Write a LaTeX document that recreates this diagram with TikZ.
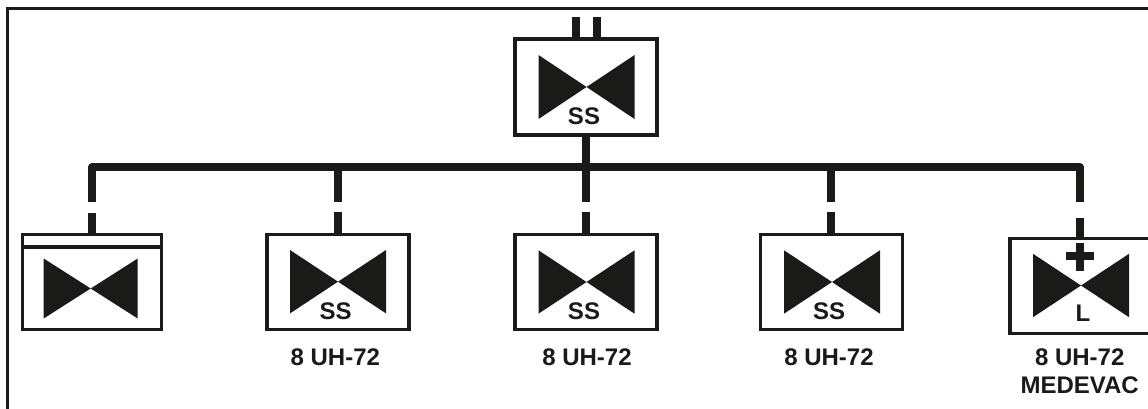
\documentclass[tikz,border=0pt]{standalone}
\usepackage{fontspec}
\setmainfont{Liberation Sans}
\definecolor{ink}{HTML}{1A1A18}
\tikzset{
  x=1pt,y=-1pt,
  unitbox/.style={draw=ink,line width=3.4pt,fill=white,inner sep=0pt},
  wing/.style={fill=ink,draw=none},
  trunk/.style={draw=ink,line width=7.7pt},
  bar/.style={draw=ink,line width=7.7pt},
  captext/.style={font=\bfseries\fontsize{24}{28}\selectfont,text=ink,inner sep=0pt,align=center},
  ssl/.style={font=\bfseries\fontsize{24}{24}\selectfont,text=ink,inner sep=0pt}
}
\newcommand{\mybow}[4]{% apex x, apex y, half width, half height
  \fill[wing] (#1,#2) -- (#1-#3,#2-#4) -- (#1-#3,#2+#4) -- cycle;
  \fill[wing] (#1,#2) -- (#1+#3,#2-#4) -- (#1+#3,#2+#4) -- cycle;
}
\begin{document}
\begin{tikzpicture}
\useasboundingbox (0,0) rectangle (1148,409);
\fill[white] (0,0) rectangle (1148,409);
% frame
\draw[ink,line width=3pt] (7.3,409) -- (7.3,9) -- (1148,9);
% named anchors
\coordinate (busL) at (92,167);
\coordinate (busR) at (1080,167);
\coordinate (stubA) at (576.2,17);
\coordinate (stubB) at (596.8,17);
% boxes
\node[unitbox,minimum width=142pt,minimum height=96pt] (hq) at (586,87) {};
\node[unitbox,minimum width=139pt,minimum height=94.5pt] (b1) at (92.2,282) {};
\node[unitbox,minimum width=142pt,minimum height=95.5pt] (b2) at (338,282) {};
\node[unitbox,minimum width=142pt,minimum height=95.5pt] (b3) at (586,282) {};
\node[unitbox,minimum width=142pt,minimum height=95.5pt] (b4) at (831.5,282) {};
\node[unitbox,minimum width=142pt,minimum height=95.5pt] (b5) at (1081,286) {};
% connectors
\draw[bar] (stubA) -- (stubA |- hq.north);
\draw[bar] (stubB) -- (stubB |- hq.north);
\draw[trunk,line cap=butt,line join=round] (92,202) -- (busL) -- (busR) -- (1080,202);
\draw[trunk] (hq.south) -- (586,202);
\draw[trunk] (338,167) -- (338,202);
\draw[trunk] (831,167) -- (831,202);
\draw[trunk] (92,213) -- (92,234);
\draw[trunk] (338,212) -- (338,234);
\draw[trunk] (586,212) -- (586,234);
\draw[trunk] (831,212) -- (831,234);
\draw[trunk] (1080,218) -- (1080,238);
% headquarters band
\draw[ink,line width=3.6pt] (b1.west |- 0,247) -- (b1.east |- 0,247);
% symbols
\mybow{586.5}{87}{48}{32}
\mybow{90.7}{288.5}{47}{30}
\mybow{338}{281.7}{48}{31.7}
\mybow{586.5}{282}{48}{31.7}
\mybow{832}{282}{48}{31.7}
\mybow{1081}{285.5}{48}{31.7}
\draw[bar] (1066,256) -- (1094,256);
\draw[bar] (1080,243) -- (1080,271);
% labels
\node[ssl] (t0) at (584,116.5) {SS};
\node[ssl] (t2) at (335.7,311) {SS};
\node[ssl] (t3) at (584,311) {SS};
\node[ssl] (t4) at (829,311) {SS};
\node[ssl] (t5) at (1083,313) {L};
\node[captext] (c2) at (335.3,357) {8 UH-72};
\node[captext] (c3) at (587,357) {8 UH-72};
\node[captext] (c4) at (829,357) {8 UH-72};
\node[captext] (c5) at (1079.7,357) {8 UH-72};
\node[captext] (c5b) at (1079.7,385) {MEDEVAC};
\end{tikzpicture}
\end{document}
